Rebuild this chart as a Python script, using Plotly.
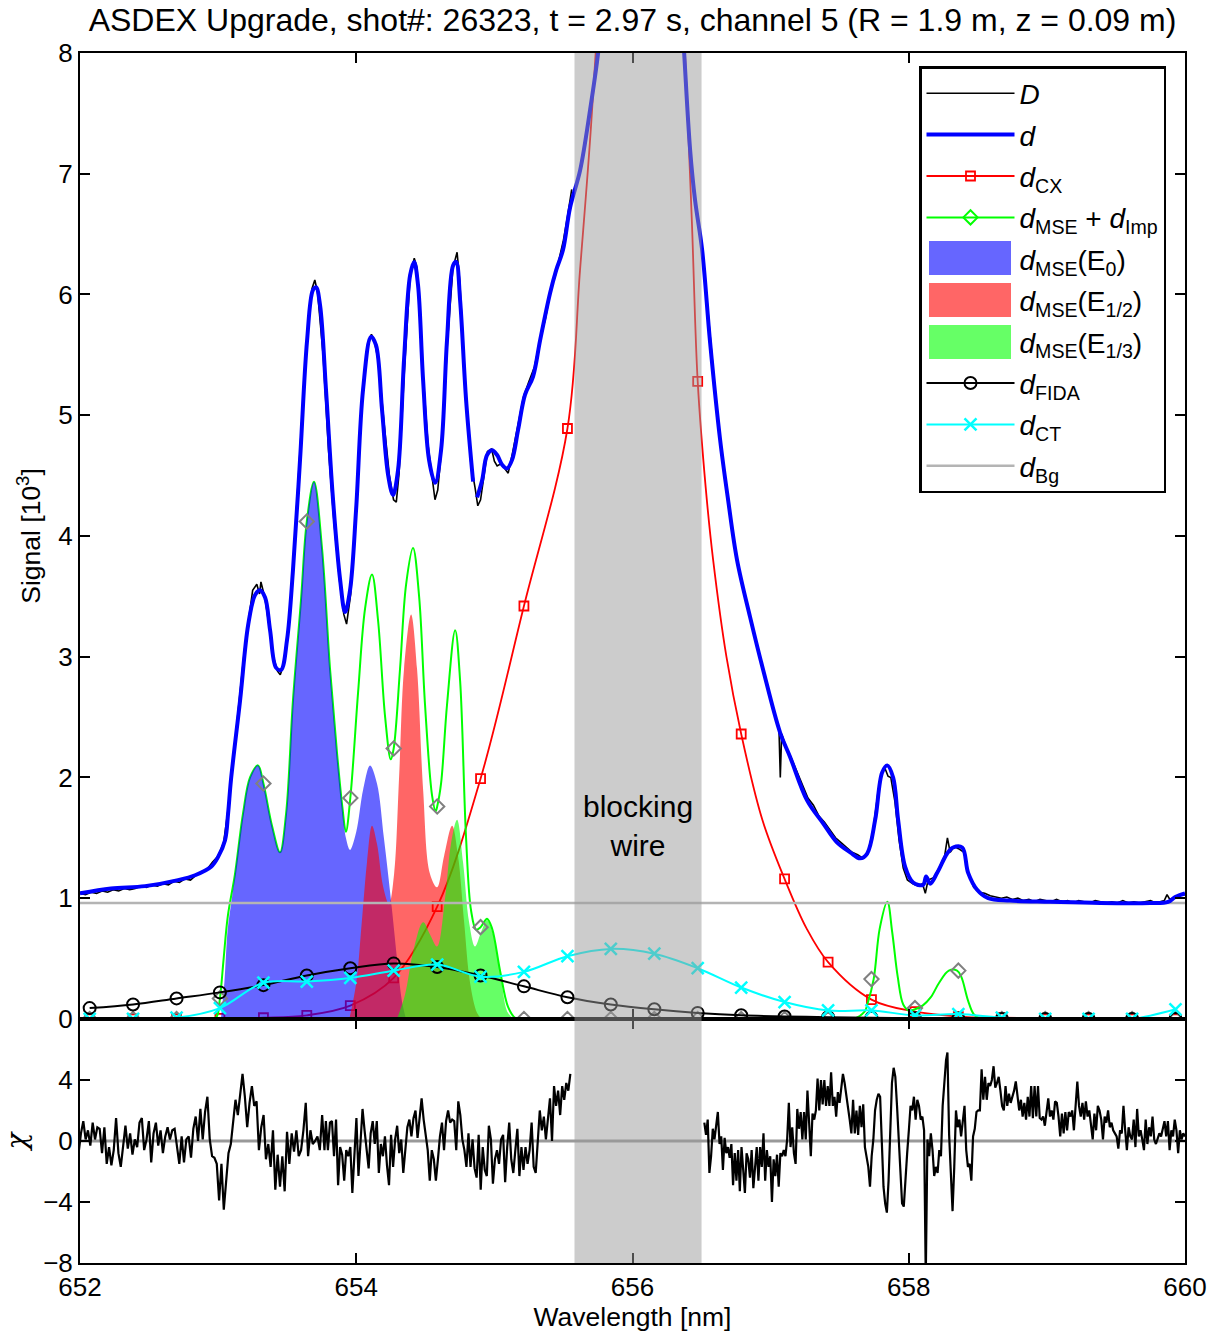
import numpy as np
import plotly.graph_objects as go

FONT = "Liberation Sans, Arial, Helvetica, sans-serif"

# ---------------- data ----------------
# wavelengths of the marker points [nm]
mk_wl = [652.070, 652.384, 652.699, 653.013, 653.328, 653.642, 653.957, 654.271, 654.586,
         654.900, 655.214, 655.529, 655.843, 656.158, 656.472, 656.787, 657.101, 657.416,
         657.730, 658.045, 658.359, 658.674, 658.988, 659.302, 659.617, 659.931]
cx_mk = [0, 0, 0, 0.005, 0.01, 0.03, 0.11, 0.34, 0.93, 1.99, 3.42, 4.89, 16.0, 14.5, 5.28,
         2.36, 1.16, 0.47, 0.16, 0.06, 0.02, 0.01, 0, 0, 0, 0]
mse_mk = [0, 0, 0, 0.17, 1.95, 4.12, 1.83, 2.24, 1.76, 0.76, 0, 0, 0, 0, 0, 0, 0, 0,
          0.33, 0.09, 0.40, 0, 0, 0, 0, 0]
fida_mk = [0.09, 0.12, 0.17, 0.22, 0.28, 0.36, 0.42, 0.46, 0.43, 0.36, 0.27, 0.18, 0.12,
           0.08, 0.05, 0.03, 0.02, 0.015, 0.01, 0.005, 0.003, 0, 0, 0, 0, 0]
ct_mk = [0.0, 0.0, 0.01, 0.09, 0.30, 0.31, 0.34, 0.40, 0.45, 0.35, 0.39, 0.52, 0.58, 0.54,
         0.42, 0.26, 0.14, 0.07, 0.07, 0.03, 0.04, 0.01, 0.0, 0.0, 0.0, 0.08]

# charge-exchange (CX) curve
cx_wl = [652.0, 652.384, 652.699, 653.013, 653.328, 653.642, 653.957, 654.271, 654.586, 654.900,
         655.214, 655.529, 655.62, 655.70, 655.78, 655.90, 656.02, 656.158, 656.27, 656.38,
         656.43, 656.472, 656.53, 656.584, 656.68, 656.787, 656.94, 657.101, 657.26, 657.416,
         657.730, 658.045, 658.359, 658.674, 660.0]
cx_val = [0, 0, 0, 0.005, 0.01, 0.03, 0.11, 0.34, 0.93, 1.99,
          3.42, 4.89, 6.2, 7.4, 9.0, 13.0, 16.0, 14.5, 11.0, 8.0,
          6.6, 5.28, 4.4, 3.80, 3.0, 2.36, 1.65, 1.16, 0.75, 0.47,
          0.16, 0.06, 0.02, 0.01, 0]

# MSE + impurity curve
mse_wl = [652.0, 652.95, 652.99, 653.013, 653.04, 653.07, 653.122, 653.180, 653.231, 653.289,
          653.328, 653.390, 653.448, 653.492, 653.542, 653.600, 653.642, 653.694, 653.752, 653.810,
          653.861, 653.900, 653.925, 653.957, 654.013, 654.064, 654.114, 654.158, 654.209, 654.250,
          654.271, 654.317, 654.361, 654.411, 654.455, 654.498, 654.549, 654.575, 654.586, 654.614,
          654.657, 654.716, 654.752, 654.795, 654.831, 654.868, 654.900, 654.947, 654.983, 655.041,
          655.099, 655.150, 655.214, 657.60, 657.68, 657.70, 657.746, 657.79, 657.845, 657.88,
          657.92, 657.96, 658.00, 658.045, 658.10, 658.16, 658.22, 658.29, 658.35, 658.38,
          658.43, 658.47, 658.52, 660.0]
mse_val = [0, 0, 0.02, 0.17, 0.5, 0.85, 1.2, 1.7, 2.0, 2.1,
           1.95, 1.6, 1.38, 1.7, 2.64, 3.47, 4.12, 4.45, 3.9, 2.9,
           2.2, 1.75, 1.55, 1.83, 2.7, 3.4, 3.68, 3.3, 2.5, 2.15,
           2.24, 2.9, 3.6, 3.9, 3.5, 2.6, 1.85, 1.72, 1.76, 1.95,
           2.6, 3.22, 2.8, 1.5, 0.9, 0.74, 0.76, 0.83, 0.75, 0.4,
           0.1, 0.01, 0, 0, 0.06, 0.12, 0.33, 0.75, 0.97, 0.72,
           0.35, 0.12, 0.07, 0.08, 0.11, 0.18, 0.30, 0.40, 0.40, 0.35,
           0.15, 0.04, 0, 0]

# MSE components for the three beam energies
e0_wl = [653.02, 653.045, 653.07, 653.10, 653.122, 653.150, 653.180, 653.231, 653.289, 653.328,
         653.390, 653.448, 653.492, 653.542, 653.600, 653.642, 653.694, 653.752, 653.810, 653.861,
         653.900, 653.925, 653.955, 654.00, 654.05, 654.100, 654.150, 654.20, 654.25, 654.30,
         654.33, 654.36]
e0_val = [0, 0.3, 0.75, 1.0, 1.2, 1.45, 1.7, 2.0, 2.1, 1.95,
          1.6, 1.38, 1.7, 2.64, 3.47, 4.12, 4.45, 3.9, 2.9, 2.2,
          1.75, 1.5, 1.4, 1.55, 1.9, 2.1, 1.95, 1.5, 1.0, 0.45,
          0.15, 0]
e12_wl = [653.95, 654.0, 654.04, 654.078, 654.114, 654.150, 654.194, 654.237, 654.274, 654.310,
          654.346, 654.397, 654.440, 654.484, 654.534, 654.585, 654.636, 654.694, 654.737, 654.781,
          654.824, 654.875, 654.91]
e12_val = [0, 0.3, 0.8, 1.3, 1.6, 1.45, 1.1, 0.95, 1.2, 2.0,
           2.9, 3.35, 2.9, 1.9, 1.2, 1.09, 1.35, 1.6, 1.35, 0.8,
           0.3, 0.05, 0]
e13_wl = [654.295, 654.353, 654.411, 654.484, 654.534, 654.585, 654.643, 654.686, 654.730, 654.773,
          654.817, 654.860, 654.904, 654.947, 654.991, 655.041, 655.099, 655.15]
e13_val = [0, 0.2, 0.55, 0.8, 0.7, 0.6, 1.0, 1.45, 1.65, 1.3,
           0.8, 0.6, 0.72, 0.82, 0.7, 0.4, 0.05, 0]

# modelled spectrum d
d_wl = [652.00, 652.224, 652.471, 652.710, 652.833, 652.949, 652.999, 653.050, 653.072, 653.093,
        653.159, 653.217, 653.267, 653.303, 653.340, 653.376, 653.419, 653.455, 653.499, 653.542,
        653.593, 653.644, 653.687, 653.709, 653.738, 653.781, 653.832, 653.883, 653.919, 653.955,
        653.999, 654.049, 654.107, 654.143, 654.187, 654.230, 654.266, 654.303, 654.346, 654.390,
        654.419, 654.447, 654.484, 654.527, 654.571, 654.614, 654.657, 654.701, 654.723, 654.752,
        654.795, 654.846, 654.86, 654.875, 654.911, 654.947, 654.983, 655.020, 655.056, 655.092,
        655.128, 655.172, 655.222, 655.280, 655.331, 655.403, 655.447, 655.497, 655.548, 655.621,
        655.693, 655.751, 655.802, 655.90, 656.00, 656.10, 656.20, 656.30, 656.374, 656.417,
        656.453, 656.504, 656.562, 656.634, 656.692, 656.757, 656.851, 656.946, 657.069, 657.141,
        657.264, 657.380, 657.482, 657.576, 657.648, 657.699, 657.757, 657.807, 657.844, 657.887,
        657.923, 657.974, 658.032, 658.104, 658.126, 658.155, 658.206, 658.278, 658.321, 658.387,
        658.430, 658.495, 658.575, 658.734, 659.024, 659.386, 659.748, 659.878, 659.929, 660.0]
d_val = [1.04, 1.08, 1.10, 1.15, 1.19, 1.26, 1.34, 1.48, 1.70, 1.98,
         2.64, 3.26, 3.51, 3.55, 3.49, 3.22, 2.91, 2.89, 3.14, 3.72,
         4.63, 5.62, 6.04, 6.06, 5.91, 5.21, 4.30, 3.64, 3.37, 3.55,
         4.22, 5.21, 5.65, 5.58, 5.04, 4.51, 4.34, 4.55, 5.46, 6.16,
         6.27, 6.08, 5.29, 4.63, 4.44, 4.71, 5.62, 6.24, 6.27, 5.95,
         5.13, 4.45, None, 4.32, 4.46, 4.67, 4.71, 4.67, 4.59, 4.56,
         4.63, 4.88, 5.17, 5.32, 5.62, 6.01, 6.20, 6.37, 6.72, 7.03,
         7.53, 8.0, 8.6, 11.0, 14.0, 14.5, 12.0, 9.5, 8.0, 7.2,
         6.78, 6.37, 5.6, 4.8, 4.3, 3.80, 3.33, 2.89, 2.37, 2.17,
         1.81, 1.62, 1.46, 1.38, 1.33, 1.37, 1.65, 2.04, 2.10, 2.00,
         1.65, 1.26, 1.13, 1.11, 1.18, 1.12, 1.21, 1.37, 1.42, 1.42,
         1.21, 1.07, 1.00, 0.98, 0.97, 0.96, 0.96, 0.97, 1.01, 1.04]

# measured spectrum D (two segments, no data behind the wire)
D_left_wl = [652.00, 652.04, 652.08, 652.12, 652.16, 652.20, 652.24, 652.28, 652.32, 652.36,
             652.40, 652.44, 652.48, 652.52, 652.56, 652.60, 652.64, 652.68, 652.72, 652.76,
             652.80, 652.84, 652.88, 652.92, 652.96, 653.00,
             653.04, 653.07, 653.10, 653.13, 653.16, 653.19, 653.22, 653.25, 653.28, 653.30,
             653.31, 653.34, 653.37, 653.40, 653.43, 653.45, 653.47, 653.50, 653.54, 653.59,
             653.64, 653.68, 653.70, 653.72, 653.76, 653.80, 653.84, 653.88, 653.91, 653.93, 653.96,
             654.00, 654.04, 654.08, 654.11, 654.13, 654.16, 654.20, 654.24, 654.27, 654.29,
             654.31, 654.35, 654.39, 654.42, 654.44, 654.48, 654.52, 654.55, 654.57, 654.59,
             654.62, 654.66, 654.70, 654.73, 654.75, 654.79, 654.83, 654.86, 654.88, 654.90,
             654.92, 654.95, 654.98,
             655.00, 655.02, 655.05, 655.08, 655.10, 655.13, 655.17, 655.21, 655.25, 655.29,
             655.33, 655.37, 655.41, 655.44, 655.47, 655.50, 655.53, 655.56]
D_left_val = [1.04, 1.03, 1.05, 1.04, 1.06, 1.05, 1.07, 1.06, 1.08, 1.07,
              1.08, 1.10, 1.09, 1.11, 1.10, 1.12, 1.11, 1.14, 1.13, 1.16,
              1.15, 1.19, 1.22, 1.24, 1.30, 1.35,
              1.46, 1.72, 2.05, 2.40, 2.70, 3.05, 3.30, 3.55, 3.60, 3.52,
              3.62, 3.48, 3.25, 3.00, 2.88, 2.85, 2.92, 3.12, 3.70, 4.62,
              5.60, 6.05, 6.12, 6.02, 5.50, 4.70, 4.10, 3.62, 3.35, 3.27, 3.52,
              4.25, 5.10, 5.55, 5.67, 5.62, 5.45, 4.95, 4.50, 4.30, 4.28,
              4.52, 5.40, 6.15, 6.30, 6.22, 5.40, 4.75, 4.45, 4.30, 4.38,
              4.75, 5.60, 6.22, 6.35, 6.10, 5.25, 4.60, 4.40, 4.25, 4.30,
              4.45, 4.70, 4.72,
              4.62, 4.58, 4.60, 4.55, 4.52, 4.68, 4.90, 5.15, 5.28, 5.40,
              5.62, 5.80, 6.05, 6.15, 6.30, 6.45, 6.65, 6.87]
D_right_wl = [656.52, 656.55, 656.59, 656.63, 656.67, 656.71, 656.75, 656.79, 656.83, 656.87,
              656.91, 656.95, 656.99, 657.03, 657.06, 657.07, 657.08, 657.11, 657.15, 657.19,
              657.23, 657.27, 657.31, 657.35, 657.39, 657.43, 657.47, 657.51, 657.55, 657.59,
              657.63, 657.67, 657.70, 657.74, 657.78, 657.81, 657.83, 657.85, 657.87, 657.90,
              657.93, 657.96, 657.99, 658.03, 658.07, 658.10, 658.12, 658.14, 658.18, 658.22,
              658.26, 658.28, 658.30, 658.33, 658.36, 658.40, 658.43, 658.47, 658.51, 658.55,
              658.59, 658.63, 658.67, 658.71, 658.75,
              658.79, 658.83, 658.87, 658.91, 658.95, 658.99, 659.03, 659.07, 659.11, 659.15,
              659.19, 659.23, 659.27, 659.31, 659.35, 659.39, 659.43, 659.47, 659.51, 659.55,
              659.59, 659.63, 659.67, 659.71, 659.75, 659.79, 659.83,
              659.85, 659.87, 659.89, 659.95, 660.00]
D_right_val = [6.20, 5.80, 5.30, 4.85, 4.45, 4.15, 3.85, 3.62, 3.42, 3.22,
               3.04, 2.88, 2.70, 2.52, 2.42, 2.00, 2.36, 2.26, 2.16, 2.05,
               1.95, 1.83, 1.77, 1.68, 1.63, 1.56, 1.50, 1.46, 1.42, 1.38,
               1.36, 1.33, 1.36, 1.55, 1.90, 2.05, 2.07, 2.01, 2.00, 1.80,
               1.48, 1.25, 1.15, 1.12, 1.10, 1.12, 1.04, 1.15, 1.17, 1.25,
               1.35, 1.50, 1.38, 1.43, 1.41, 1.38, 1.22, 1.09, 1.05, 1.04,
               1.02, 1.01, 1.00, 1.01, 0.99,
               1.00, 0.98, 0.99, 0.97, 0.99, 0.98, 0.97, 0.99, 0.97, 0.98,
               0.96, 0.98, 0.97, 0.96, 0.98, 0.97, 0.96, 0.97, 0.96, 0.98,
               0.96, 0.97, 0.96, 0.97, 0.98, 0.96, 0.97,
               0.98, 1.03, 0.99, 1.02, 1.03]

bg_level = 0.96
wire_wl = [655.58, 656.50]

# residual chi, four evenly sampled pieces (start, end wavelength)
chi_spans = [(651.99, 653.77), (653.78, 655.55), (656.52, 658.27), (658.28, 660.0)]
chi_1 = [-0.8, 0.5, 1.3, 0.1, 0.7, -0.3, 1.2, 0.1, 0.9, 0.8, -0.8, 0.9, -1.5, -0.4, -1.6, -0.6,
         1.5, -0.8, -1.7, -0.2, 1.0, -0.5, 0.5, -0.9, 0.1, -0.4, 1.2, 1.5, -0.6, 0.1, 1.3, -1.4,
         0.5, 1.2, -0.3, 0.7, -0.8, 0.3, 0.9, 0.1, 0.7, 0.8, -0.4, -1.5, 0.3, -1.4, 0.1, 0.3,
         -1.1, 0.8, 1.6, 0.0, 2.1, 0.1, 1.9, 2.9, 0.1, -1.0, -1.1, -1.5, -3.9, -1.5, -4.5, -2.6,
         -0.8, -0.2, 1.4, 2.7, 1.7, 3.2, 4.4, 2.9, 0.9, 2.5, 3.6, 2.3, 2.6, -0.6, 0.9, 1.7,
         -1.2, -0.2, -1.7, 0.7, -3.2, -0.9, -3.0, -1.0, -3.3, 0.6, -1.5, 0.5, -0.7, 0.7, -1.0,
         -0.6, 0.7, 2.5, -1.0, 0.7, -0.2, 0.0, 0.3, -0.6, 1.7, -0.6]
chi_2 = [1.3, -0.6, 1.2, 1.3, -1.0, 1.4, -2.9, -0.4, -0.9, -2.6, -0.6, -1.0, -0.4, -3.4, -0.8,
         1.5, -2.3, 0.1, 2.1, 0.7, -0.6, -1.8, 0.5, 1.3, -0.2, 1.3, -2.1, -0.2, -1.0, 0.3, -1.6,
         -2.9, 0.4, -1.7, 0.1, 1.0, -0.8, 0.1, -2.1, -0.6, 0.9, 1.4, 0.3, 1.5, 2.0, 0.2, 1.4,
         2.8, 1.4, 0.3, -0.6, -2.6, -0.6, -1.2, -2.6, -1.2, 0.3, 1.2, -0.6, 1.3, 2.0, 1.2, 1.4,
         1.3, -0.6, 2.6, 1.7, 0.1, -0.6, -1.7, 0.5, -1.7, 0.1, -1.8, -2.4, 0.4, -3.2, -0.4, -1.9,
         -2.3, 1.0, 0.1, -2.8, -1.2, -0.6, -1.5, 0.1, 0.4, -2.7, -0.4, 1.2, -1.2, -2.1, -0.6,
         0.8, -2.3, -0.4, -1.9, -0.4, -1.5, -0.6, 1.2, -1.7, -2.1, 0.1, 2.0, 0.7, 1.6, 0.1, 1.4,
         2.8, 0.0, 3.6, 2.3, 3.3, 1.7, 3.6, 2.7, 3.8, 3.3, 4.4]
chi_3 = [1.2, 0.4, 1.4, -2.1, -1.0, 0.8, 0.1, 0.9, 1.9, -0.2, 0.3, -1.9, 0.2, -0.8, -0.4, -1.1,
         -0.2, -2.9, -0.8, -2.6, -0.6, -3.3, -0.4, -1.9, -3.4, -0.8, -1.2, -2.4, -0.6, -3.1,
         -1.7, -0.4, -2.6, -0.4, -1.7, 0.5, -2.6, -0.6, -1.7, -1.0, -4.0, -1.2, -2.3, -0.9, -3.0,
         -0.8, -1.0, -0.6, -1.0, 0.1, 2.5, -0.4, 0.9, -0.8, -1.5, 2.1, 0.8, 1.9, 0.1, 1.9, 0.1,
         3.3, 1.2, -1.0, 1.8, 1.4, 2.0, 4.1, 2.0, 4.0, 2.4, 4.0, 2.3, 3.6, 2.3, 4.5, 2.3, 2.9,
         1.6, 3.2, 2.5, 3.6, 4.4, 3.8, 3.1, 2.3, 1.4, 0.5, 2.7, 0.5, 2.0, 0.4, 2.3, 0.9, 2.4,
         -0.4, -1.0, -1.7, -3.0, -1.0, 0.1, 2.0, 2.7, 3.1, 2.9, 0.1, -3.0, -4.1, -4.7, -2.6, 1.2,
         3.8, 4.8, 4.2, 2.3, 0.1, -2.1, -4.1, -4.3, -2.1, -0.8, 0.7, 2.3, 2.0, 2.9, 1.4, 2.7,
         2.3, 1.4, 1.6, 0.7, -9.0, 0.1, -1.0, 0.5, -0.6, -2.3, -1.7, -2.1, -0.6, -1.0, 2.3, 3.8,
         5.3]
chi_4 = [5.8, 0.4, -2.1, -4.6, -1.7, 2.0, 0.9, 1.4, 0.3, 1.2, 2.3, -0.6, -1.7, -1.5, -2.6, 0.3,
         0.8, 1.9, 2.0, 2.0, 4.7, 2.7, 4.2, 2.7, 3.8, 3.6, 4.0, 4.9, 3.5, 3.8, 4.2, 3.3, 2.3,
         2.0, 3.6, 2.3, 3.1, 2.5, 2.9, 3.3, 3.9, 2.9, 2.0, 2.7, 1.6, 2.5, 1.4, 2.9, 1.6, 3.6,
         1.5, 3.6, 1.6, 3.6, 1.5, 1.4, 1.6, 1.0, 1.8, 2.8, 1.6, 2.0, 1.4, 2.6, 2.5, 1.6, 0.3,
         1.8, 0.5, 1.9, 0.7, 1.9, 1.6, 2.0, 0.7, 2.3, 3.9, 2.3, 1.6, 2.5, 1.4, 2.6, 1.6, 2.0,
         1.2, 0.1, 1.8, 0.7, 2.3, 2.0, 1.4, 0.1, 1.6, 1.2, 2.0, 0.9, 1.2, 0.7, 0.5, 0.3, -0.5,
         0.7, 0.5, 2.3, 0.7, -0.6, 0.9, 0.3, 0.1, 1.4, -0.4, 2.1, 0.3, 0.7, 0.1, -0.6, 1.4,
         -0.2, 0.9, 0.3, 1.6, 0.1, -0.2, 0.1, 0.5, 0.3, 0.9, 1.3, 0.3, 1.3, -0.6, 0.7, 0.3, 1.4,
         0.7, -0.8, 0.7, 0.1, 0.5, 0.3]

# ---------------- figure ----------------
chi_x, chi_y = [], []
for (a, b), seg in zip(chi_spans, [chi_1, chi_2, chi_3, chi_4]):
    chi_x += list(np.linspace(a, b, len(seg)))
    chi_y += list(seg)
# gap behind the blocking wire
gap_i = len(chi_1) + len(chi_2)
chi_x = chi_x[:gap_i] + [None] + chi_x[gap_i:]
chi_y = chi_y[:gap_i] + [None] + chi_y[gap_i:]

D_x = D_left_wl + [None] + D_right_wl
D_y = D_left_val + [None] + D_right_val

fig = go.Figure()
top = dict(xaxis="x", yaxis="y")
bot = dict(xaxis="x2", yaxis="y2")

# CX (under the fills)
fig.add_trace(go.Scatter(x=cx_wl, y=cx_val, mode="lines", showlegend=False,
                         line=dict(color="#ff0000", width=1.8, shape="spline"), **top))
fig.add_trace(go.Scatter(x=mk_wl, y=cx_mk, mode="markers", showlegend=False,
                         marker=dict(symbol="square-open", size=9, color="#ff0000",
                                     line=dict(width=1.8, color="#ff0000")), **top))
# MSE + impurity line
fig.add_trace(go.Scatter(x=mse_wl, y=mse_val, mode="lines", showlegend=False,
                         line=dict(color="#00ff00", width=2, shape="spline"), **top))
# fills
fill_specs = [
    (e0_wl, e0_val, "rgba(0,0,255,0.6)", "<i>d</i><sub>MSE</sub>(E<sub>0</sub>)", 5),
    (e12_wl, e12_val, "rgba(255,0,0,0.6)", "<i>d</i><sub>MSE</sub>(E<sub>1/2</sub>)", 6),
    (e13_wl, e13_val, "rgba(0,255,0,0.6)", "<i>d</i><sub>MSE</sub>(E<sub>1/3</sub>)", 7),
]
for xs, ys, col, nm, rk in fill_specs:
    fig.add_trace(go.Scatter(x=xs, y=ys, mode="lines", fill="tozeroy", fillcolor=col,
                             line=dict(width=0, shape="spline", color=col), showlegend=False,
                             **top))
    # legend entry (its swatch is drawn as a rectangle below)
    fig.add_trace(go.Scatter(x=[None], y=[None], mode="lines", name=nm,
                             line=dict(width=0, color=col),
                             legendrank=rk, legendgroup=str(rk), **top))
# MSE markers
fig.add_trace(go.Scatter(x=mk_wl, y=mse_mk, mode="markers", showlegend=False,
                         marker=dict(symbol="diamond-open", size=11, color="#808080",
                                     line=dict(width=2, color="#808080")), **top))
# FIDA
fig.add_trace(go.Scatter(x=mk_wl, y=fida_mk, mode="lines+markers",
                         name="<i>d</i><sub>FIDA</sub>", legendrank=8, legendgroup="8",
                         line=dict(color="black", width=2, shape="spline"),
                         marker=dict(symbol="circle-open", size=12, color="black",
                                     line=dict(width=2)), **top))
# CT
fig.add_trace(go.Scatter(x=mk_wl, y=ct_mk, mode="lines+markers",
                         name="<i>d</i><sub>CT</sub>", legendrank=9, legendgroup="9",
                         line=dict(color="#00ffff", width=2, shape="spline"),
                         marker=dict(symbol="x-thin-open", size=12, color="#00ffff",
                                     line=dict(width=2.5, color="#00ffff")), **top))
# background
fig.add_trace(go.Scatter(x=[652, 660], y=[bg_level, bg_level], mode="lines",
                         name="<i>d</i><sub>Bg</sub>", legendrank=10, legendgroup="10",
                         line=dict(color="#b4b4b4", width=2.5), **top))
# measured and modelled spectra
fig.add_trace(go.Scatter(x=D_x, y=D_y, mode="lines", name="<i>D</i>", legendrank=1,
                         legendgroup="1", line=dict(color="black", width=1.6), **top))
fig.add_trace(go.Scatter(x=d_wl, y=d_val, mode="lines", name="<i>d</i>", legendrank=2,
                         legendgroup="2", line=dict(color="#0000ff", width=4, shape="spline"),
                         **top))
# legend entries for the marker lines
fig.add_trace(go.Scatter(x=[None], y=[None], mode="lines+markers", name="<i>d</i><sub>CX</sub>",
                         legendrank=3, legendgroup="3",
                         line=dict(color="#ff0000", width=1.8),
                         marker=dict(symbol="square-open", size=9, color="#ff0000",
                                     line=dict(width=1.8)), **top))
fig.add_trace(go.Scatter(x=[None], y=[None], mode="lines+markers",
                         name="<i>d</i><sub>MSE</sub> + <i>d</i><sub>Imp</sub>",
                         legendrank=4, legendgroup="4",
                         line=dict(color="#00ff00", width=2),
                         marker=dict(symbol="diamond-open", size=11, color="#00ff00",
                                     line=dict(width=2)), **top))

# residual panel
fig.add_trace(go.Scatter(x=[652, 660], y=[0, 0], mode="lines", showlegend=False,
                         line=dict(color="#999999", width=3), **bot))
fig.add_trace(go.Scatter(x=chi_x, y=chi_y, mode="lines", showlegend=False,
                         line=dict(color="black", width=2.2), **bot))

# blocking wire
fig.add_shape(type="rect", xref="x", yref="paper", x0=wire_wl[0], x1=wire_wl[1], y0=0, y1=1,
              fillcolor="rgba(153,153,153,0.5)", line=dict(width=0), layer="above")
fig.add_annotation(x=sum(wire_wl) / 2, y=1.6, xref="x", yref="y", text="blocking<br>wire",
                   showarrow=False, font=dict(size=30, family=FONT, color="black"))

# legend swatches for the filled components (pixel rows of the legend items)
PLOT_L, PLOT_W, PLOT_B, PLOT_H = 80, 1105, 1263, 1210
for (_, _, col, _, _), cy in zip(fill_specs, [258, 300, 342]):
    fig.add_shape(type="rect", xref="paper", yref="paper",
                  x0=(929 - PLOT_L) / PLOT_W, x1=(1011 - PLOT_L) / PLOT_W,
                  y0=(PLOT_B - (cy + 17)) / PLOT_H, y1=(PLOT_B - (cy - 17)) / PLOT_H,
                  fillcolor=col, line=dict(width=0), layer="above")

axis_common = dict(showline=True, linecolor="black", linewidth=2, mirror="ticks",
                   ticks="inside", ticklen=10, tickwidth=1.5, tickcolor="black",
                   showgrid=False, zeroline=False, automargin=False,
                   tickfont=dict(size=26, family=FONT, color="black"))
split = 0.2017
fig.update_layout(
    width=1213, height=1337,
    margin=dict(l=80, r=28, t=53, b=74, autoexpand=False),
    paper_bgcolor="white", plot_bgcolor="white",
    font=dict(family=FONT, color="black"),
    title=dict(text="ASDEX Upgrade, shot#: 26323, t = 2.97 s, channel 5 (R = 1.9 m, z = 0.09 m)",
               x=0.5, xref="paper", xanchor="center", y=1 - 20 / 1337, yanchor="middle",
               automargin=False, font=dict(size=32, family=FONT, color="black")),
    xaxis=dict(domain=[0, 1], anchor="y", range=[652, 660], tickvals=[652, 654, 656, 658, 660],
               showticklabels=False, **axis_common),
    yaxis=dict(domain=[split, 1], anchor="x", range=[0, 8], tickvals=list(range(0, 9)),
               title=dict(text="Signal [10<sup>3</sup>]", font=dict(size=26.5, family=FONT),
                          standoff=10),
               **axis_common),
    xaxis2=dict(domain=[0, 1], anchor="y2", range=[652, 660], matches="x",
                tickvals=[652, 654, 656, 658, 660],
                title=dict(text="Wavelength [nm]", font=dict(size=26.5, family=FONT), standoff=6),
                **axis_common),
    yaxis2=dict(domain=[0, split], anchor="x2", range=[-8, 8], tickvals=[-8, -4, 0, 4],
                title=dict(text="<i>χ</i>", font=dict(size=28, family="DejaVu Serif")),
                **axis_common),
    legend=dict(x=(919 - 80) / 1105, y=(1263 - 66) / 1210, xanchor="left", yanchor="top",
                bgcolor="rgba(255,255,255,0)", bordercolor="black", borderwidth=2.5,
                font=dict(size=28, family=FONT, color="black"),
                itemwidth=88, traceorder="grouped", tracegroupgap=2),
    showlegend=True,
)

fig.write_html("out.html")
